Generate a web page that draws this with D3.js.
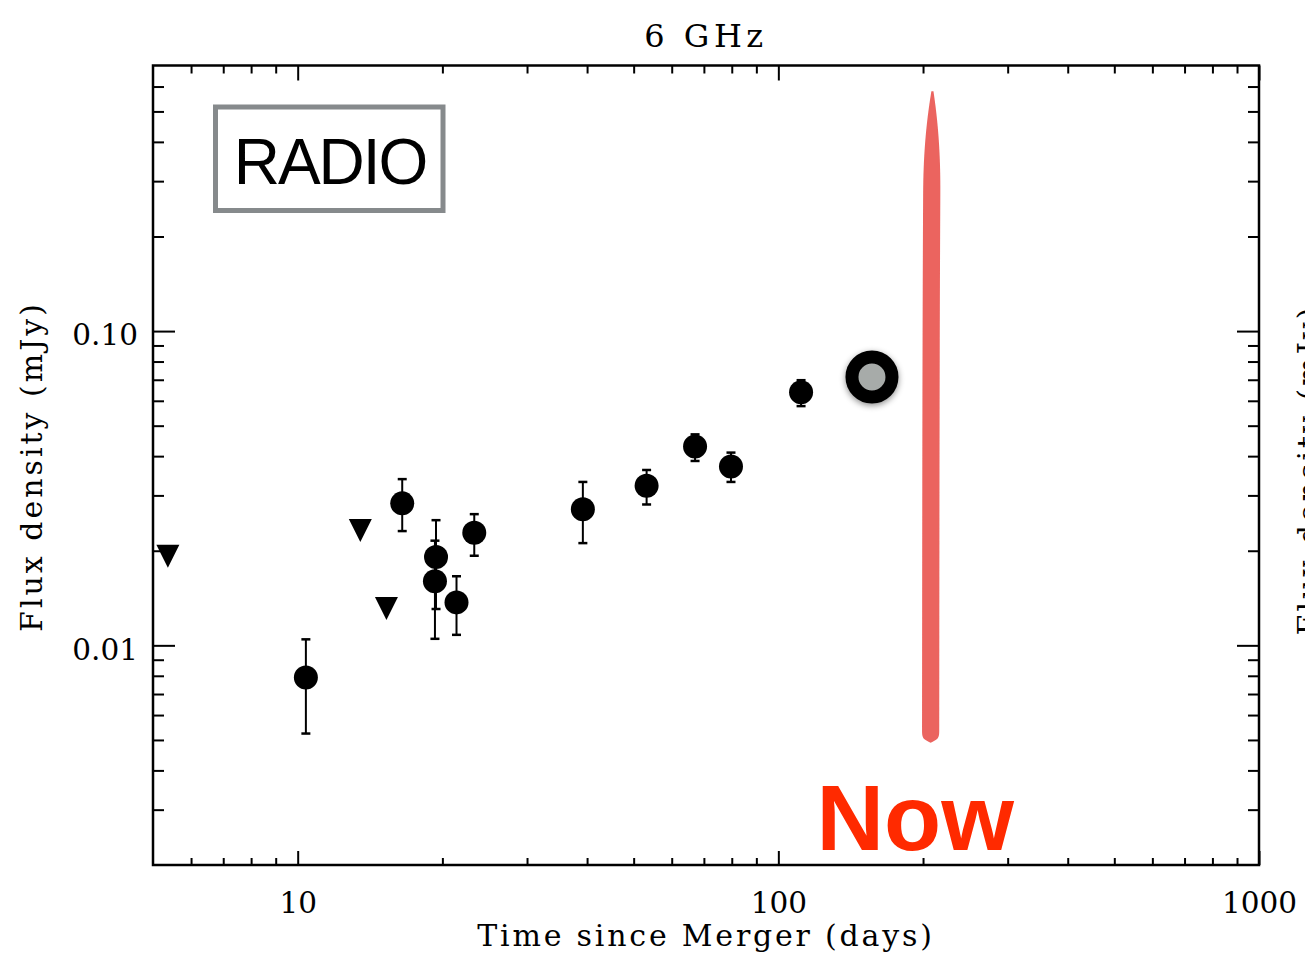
<!DOCTYPE html>
<html>
<head>
<meta charset="utf-8">
<script src="https://cdn.jsdelivr.net/npm/d3@7"></script>
<style>
  body { margin: 0; background: #fff; }
  svg { display: block; }
</style>
</head>
<body>
<svg id="chart" width="1305" height="962"></svg>
<script>
// 6 GHz radio light curve: detections with 1-sigma error bars
const detDays  = [10.4, 16.5, 19.4, 19.3, 21.4, 23.3, 39.2, 53.2, 67.1, 79.7, 111.5];
const detFlux  = [0.0079, 0.0283, 0.0191, 0.0160, 0.0137, 0.0228, 0.0271, 0.0322, 0.0429, 0.0371, 0.0639];
const detLow   = [0.00524, 0.0231, 0.01305, 0.01049, 0.0108, 0.01928, 0.02115, 0.02807, 0.03861, 0.03311, 0.05771];
const detHigh  = [0.01045, 0.0338, 0.02502, 0.02153, 0.01659, 0.02615, 0.03311, 0.03614, 0.04692, 0.04105, 0.06978];

// 3-sigma upper limits
const limDays = [5.37, 13.5, 15.3];
const limFlux = [0.0192, 0.0232, 0.0131];

// most recent observation (highlighted)
const latestDays = [156.6];
const latestFlux = [0.0714];

// "now" marker: epoch and vertical flux extent
const nowDay = 208;
const nowFluxRange = [0.0049, 0.58];

// axis ticks
const xTickValues = [10, 100, 1000];
const xTickLabels = ["10", "100", "1000"];
const yTickValues = [0.01, 0.1];
const yTickLabels = ["0.01", "0.10"];

const xDomain = [5, 1000];
const yDomain = [0.002, 0.7];

const svg = d3.select("#chart");
const pLeft = 153, pRight = 1259, pTop = 65.5, pBottom = 865;

const x = d3.scaleLog().domain(xDomain).range([pLeft, pRight]);
const y = d3.scaleLog().domain(yDomain).range([pBottom, pTop]);

const serif = "'DejaVu Serif', serif";
const sans = "'Liberation Sans', Arial, Helvetica, sans-serif";

// minor ticks at 2..9 x each decade, strictly inside the domain
function minorTicks(domain) {
  const out = [];
  const d0 = Math.floor(Math.log10(domain[0])), d1 = Math.ceil(Math.log10(domain[1]));
  for (let d = d0; d <= d1; d++) {
    for (let k = 2; k <= 9; k++) {
      const v = k * Math.pow(10, d);
      if (v > domain[0] * 1.001 && v < domain[1] * 0.999) out.push(v);
    }
  }
  return out;
}
const xMinor = minorTicks(xDomain);
const yMinor = minorTicks(yDomain);

// shadow for the highlighted point
const defs = svg.append("defs");
const shadow = defs.append("filter").attr("id", "ptShadow")
  .attr("x", "-50%").attr("y", "-50%").attr("width", "200%").attr("height", "200%");
shadow.append("feDropShadow").attr("dx", 0).attr("dy", 2).attr("stdDeviation", 3)
  .attr("flood-color", "#000").attr("flood-opacity", 0.45);
const soft = defs.append("filter").attr("id", "soft");
soft.append("feGaussianBlur").attr("stdDeviation", 0.5);

function styleAxis(g, width) {
  g.select(".domain").remove();
  g.selectAll(".tick line").attr("stroke", "#000").attr("stroke-width", width);
}

// major ticks with labels (bottom, left)
const xAxis = svg.append("g").attr("transform", `translate(0,${pBottom})`)
  .call(d3.axisBottom(x).tickValues(xTickValues)
    .tickFormat((d, i) => xTickLabels[i]).tickSizeInner(-14).tickSizeOuter(0).tickPadding(27));
styleAxis(xAxis, 2);
xAxis.selectAll("text").attr("font-family", serif).attr("font-size", 29.5).attr("fill", "#000");

const yAxis = svg.append("g").attr("transform", `translate(${pLeft},0)`)
  .call(d3.axisLeft(y).tickValues(yTickValues)
    .tickFormat((d, i) => yTickLabels[i]).tickSizeInner(-22).tickSizeOuter(0).tickPadding(15));
styleAxis(yAxis, 2);
yAxis.selectAll("text").attr("font-family", serif).attr("font-size", 29.5)
  .attr("fill", "#000").attr("dy", "0.47em");

// mirrored major ticks (top, right)
const xTopAxis = svg.append("g").attr("transform", `translate(0,${pTop})`)
  .call(d3.axisTop(x).tickValues(xTickValues).tickFormat("").tickSizeInner(-15).tickSizeOuter(0));
styleAxis(xTopAxis, 2);
const yRightAxis = svg.append("g").attr("transform", `translate(${pRight},0)`)
  .call(d3.axisRight(y).tickValues(yTickValues).tickFormat("").tickSizeInner(-22).tickSizeOuter(0));
styleAxis(yRightAxis, 2);

// minor ticks on all four sides
[[d3.axisBottom, pBottom, -7], [d3.axisTop, pTop, -8]].forEach(([fn, pos, len]) => {
  const g = svg.append("g").attr("transform", `translate(0,${pos})`)
    .call(fn(x).tickValues(xMinor).tickFormat("").tickSizeInner(len).tickSizeOuter(0));
  styleAxis(g, 2);
});
[[d3.axisLeft, pLeft], [d3.axisRight, pRight]].forEach(([fn, pos]) => {
  const g = svg.append("g").attr("transform", `translate(${pos},0)`)
    .call(fn(y).tickValues(yMinor).tickFormat("").tickSizeInner(-11).tickSizeOuter(0));
  styleAxis(g, 2);
});

// plot frame
svg.append("rect")
  .attr("x", pLeft).attr("y", pTop).attr("width", pRight - pLeft).attr("height", pBottom - pTop)
  .attr("fill", "none").attr("stroke", "#000").attr("stroke-width", 2.5);

// title and axis labels
svg.append("text").attr("x", 706).attr("y", 47)
  .attr("text-anchor", "middle").attr("font-family", serif).attr("font-size", 32)
  .attr("letter-spacing", 4.5)
  .text("6 GHz");

svg.append("text").attr("x", 706).attr("y", 946)
  .attr("text-anchor", "middle").attr("font-family", serif).attr("font-size", 30)
  .attr("letter-spacing", 2.8)
  .text("Time since Merger (days)");

svg.append("text").attr("transform", "translate(42,466.5) rotate(-90)")
  .attr("text-anchor", "middle").attr("font-family", serif).attr("font-size", 30)
  .attr("letter-spacing", 3)
  .text("Flux density (mJy)");

// y label of the neighbouring panel, cut by the right edge
svg.append("text").attr("transform", "translate(1319,470) rotate(-90)")
  .attr("text-anchor", "middle").attr("font-family", serif).attr("font-size", 30)
  .attr("letter-spacing", 3)
  .text("Flux density (mJy)");

// RADIO band label
svg.append("rect").attr("x", 215.5).attr("y", 107).attr("width", 227.5).attr("height", 103.5)
  .attr("fill", "#fff").attr("stroke", "#868a8c").attr("stroke-width", 5);
svg.append("text").attr("x", 330).attr("y", 183.5)
  .attr("text-anchor", "middle").attr("font-family", sans).attr("font-size", 64)
  .attr("letter-spacing", -2).attr("fill", "#000")
  .text("RADIO");

// "now" brush stroke: tapered top, rounded bottom
const yTopPx = y(nowFluxRange[1]), yBotPx = y(nowFluxRange[0]);
const strokeLen = yBotPx - yTopPx;
const halfW = 8.6, capR = 9;
const samples = d3.range(0, 1.0001, 1 / 200).map(u => {
  const py = yTopPx + u * strokeLen;
  const t = Math.min(1, u / 0.16);
  const taper = 0.12 + 0.88 * (1 - Math.pow(1 - t, 2.2));
  const d = (1 - u) * strokeLen;
  const round = d < capR ? Math.sqrt(Math.max(0, 1 - Math.pow((capR - d) / capR, 2))) : 1;
  const lean = 1.2 * Math.pow(1 - u, 4) - 0.6 * u;
  return { py, w: halfW * taper * round, lean };
});
const brush = d3.area()
  .y(s => s.py)
  .x0(s => x(nowDay) + s.lean - s.w)
  .x1(s => x(nowDay) + s.lean + s.w)
  .curve(d3.curveBasis);
svg.append("path").datum(samples).attr("d", brush)
  .attr("fill", "#eb5f5a").attr("opacity", 0.97).attr("filter", "url(#soft)");

svg.append("text").attr("x", x(nowDay) - 16).attr("y", 850)
  .attr("text-anchor", "middle").attr("font-family", sans).attr("font-weight", "bold")
  .attr("font-size", 93.5).attr("fill", "#ff2a00")
  .text("Now");

// error bars
const capHalf = 4.5;
const eb = svg.append("g").attr("stroke", "#000").attr("stroke-width", 2);
detDays.forEach((t, i) => {
  const cx = x(t);
  eb.append("line").attr("x1", cx).attr("x2", cx).attr("y1", y(detHigh[i])).attr("y2", y(detLow[i]));
  eb.append("line").attr("x1", cx - capHalf).attr("x2", cx + capHalf).attr("y1", y(detHigh[i])).attr("y2", y(detHigh[i])).attr("stroke-width", 2.5);
  eb.append("line").attr("x1", cx - capHalf).attr("x2", cx + capHalf).attr("y1", y(detLow[i])).attr("y2", y(detLow[i])).attr("stroke-width", 2.5);
});

// detections
svg.append("g").selectAll("circle").data(detDays).join("circle")
  .attr("cx", d => x(d)).attr("cy", (d, i) => y(detFlux[i])).attr("r", 12).attr("fill", "#000");

// upper limits: downward triangles centred on the limit
const downTriangle = {
  draw(ctx, size) {
    const h = Math.sqrt(size);
    ctx.moveTo(-h / 2, -h / 2);
    ctx.lineTo(h / 2, -h / 2);
    ctx.lineTo(0, h / 2);
    ctx.closePath();
  }
};
svg.append("g").selectAll("path").data(limDays).join("path")
  .attr("transform", (d, i) => `translate(${x(d)},${y(limFlux[i])})`)
  .attr("d", d3.symbol().type(downTriangle).size(23 * 23))
  .attr("fill", "#000");

// latest observation
svg.append("g").selectAll("circle").data(latestDays).join("circle")
  .attr("cx", d => x(d)).attr("cy", (d, i) => y(latestFlux[i])).attr("r", 20)
  .attr("fill", "#a7aba9").attr("stroke", "#000").attr("stroke-width", 13)
  .attr("filter", "url(#ptShadow)");
</script>
</body>
</html>
